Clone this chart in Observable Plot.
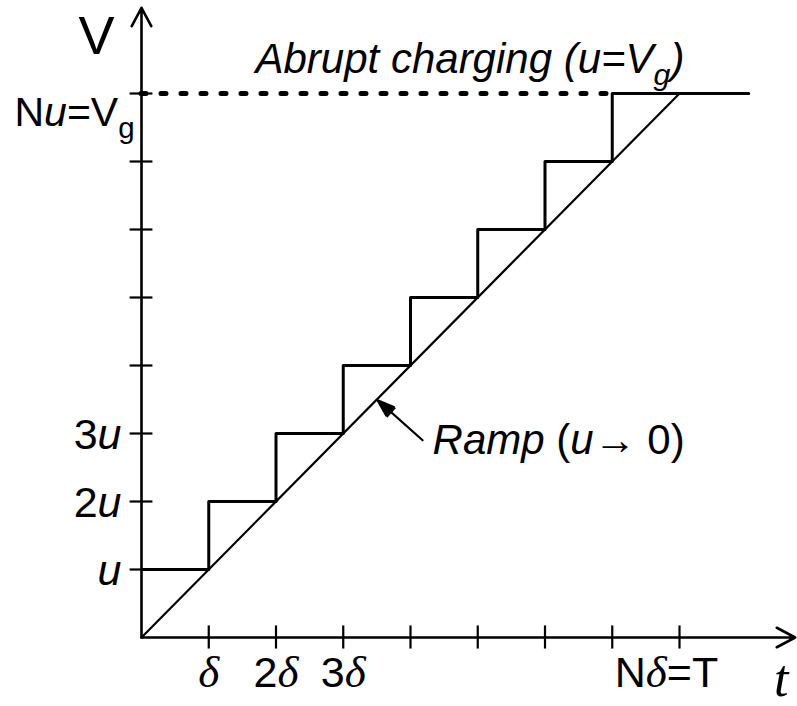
<!DOCTYPE html>
<html><head><meta charset="utf-8">
<script src="https://cdn.jsdelivr.net/npm/d3@7"></script>
<script src="https://cdn.jsdelivr.net/npm/@observablehq/plot@0.6"></script>
<style>html,body{margin:0;padding:0;background:#fff;overflow:hidden}</style>
</head><body><div id="chart"></div>
<script>
// Markup in labels: *...* italic, _..._ subscript, ^...^ serif italic (Greek)
const steps = [1, 2, 3, 4, 5, 6, 7, 8];
const xTickLabels = ["^δ^", "2^δ^", "3^δ^", "", "", "", "", ""];
const xLastLabel = "N^δ^=T";
const yTickLabels = ["*u*", "2*u*", "3*u*", "", "", "", "", ""];
const yTopLabel = "N*u*=V_g_";
const stairT = [0, 1, 2, 3, 4, 5, 6, 7, 9.03];
const stairV = [1, 2, 3, 4, 5, 6, 7, 8, 8];
const rampT = [0, 8];
const rampV = [0, 8];
const Vg = 8;
const dashedEnd = 7;
const axisMaxT = 9.72;
const axisMaxV = 9.26;
const pointerTail = [4.18, 2.90];
const pointerTip = [3.51, 3.49];
const abruptLabel = "*Abrupt charging (u=V_g_)*";
const rampLabel = "*Ramp* (*u*→ 0)";
const yName = "V";
const xName = "t";

const stairs = stairT.map((t, i) => ({t, v: stairV[i]}));
const ramp = rampT.map((t, i) => ({t, v: rampV[i]}));
const serif = "'Liberation Serif', 'Times New Roman', serif";

const pointerHead = {
  draw(ctx, size) {
    ctx.moveTo(0, 0);
    ctx.lineTo(6.5, 19);
    ctx.lineTo(-6.5, 19);
    ctx.closePath();
  }
};

const svg = Plot.plot({
  width: 797, height: 706,
  marginLeft: 141, marginRight: 118, marginTop: 93, marginBottom: 69,
  x: {domain: [0, 8], axis: null},
  y: {domain: [0, 8], axis: null},
  style: {fontFamily: "'Liberation Sans', Arial, sans-serif", background: "white", color: "black"},
  marks: [
    Plot.ruleY([Vg], {x1: 0, x2: dashedEnd, strokeWidth: 5, strokeDasharray: "5,15", strokeLinecap: "round"}),
    Plot.line(stairs, {x: "t", y: "v", curve: "step-after", strokeWidth: 3}),
    Plot.line(ramp, {x: "t", y: "v", strokeWidth: 2.2}),
    Plot.arrow([{x1: 0, y1: 0, x2: axisMaxT, y2: 0}, {x1: 0, y1: 0, x2: 0, y2: axisMaxV}],
      {x1: "x1", y1: "y1", x2: "x2", y2: "y2", strokeWidth: 2.6, headLength: 12, headAngle: 56}),
    Plot.ruleX(steps, {x: d => d, y1: -0.17, y2: 0.17, strokeWidth: 2.2}),
    Plot.ruleY(steps, {y: d => d, x1: -0.17, x2: 0.17, strokeWidth: 2.2}),
    Plot.arrow([0], {x1: pointerTail[0], y1: pointerTail[1], x2: pointerTip[0], y2: pointerTip[1], strokeWidth: 2.2, headLength: 12, headAngle: 38}),
    Plot.dot([0], {x: pointerTip[0], y: pointerTip[1], r: 10, symbol: pointerHead, rotate: -48, fill: "black", stroke: "none"}),
    Plot.text(steps, {x: d => d, y: 0, text: (d, i) => xTickLabels[i], dy: 49, lineAnchor: "bottom", fontSize: 43}),
    Plot.text([xLastLabel], {x: 8, y: 0, text: d => d, dx: -13, dy: 49, lineAnchor: "bottom", fontSize: 43}),
    Plot.text(steps, {x: 0, y: d => d, text: (d, i) => yTickLabels[i], textAnchor: "end", dx: -20, dy: 15, lineAnchor: "bottom", fontSize: 43}),
    Plot.text([yTopLabel], {x: 0, y: Vg, text: d => d, textAnchor: "start", dx: -127, dy: 32, lineAnchor: "bottom", fontSize: 41}),
    Plot.text([yName], {x: 0, y: axisMaxV, text: d => d, dx: -45, dy: 46, lineAnchor: "bottom", fontSize: 54}),
    Plot.text([xName], {x: axisMaxT, y: 0, text: d => d, dx: -14, dy: 58, lineAnchor: "bottom", fontSize: 52, fontFamily: serif, fontStyle: "italic"}),
    Plot.text([abruptLabel], {x: 0, y: Vg, text: d => d, textAnchor: "start", dx: 114, dy: -21, lineAnchor: "bottom", fontSize: 42}),
    Plot.text([rampLabel], {x: pointerTail[0], y: pointerTail[1], text: d => d, textAnchor: "start", dx: 10, dy: 14, lineAnchor: "bottom", fontSize: 42})
  ]
});
document.getElementById("chart").appendChild(svg);

const NS = "http://www.w3.org/2000/svg";
function rich(el) {
  const s = el.textContent;
  if (!/[*_^]/.test(s)) return;
  const fs = parseFloat(getComputedStyle(el).fontSize) || 40;
  el.textContent = "";
  let it = false, sub = false, ser = false, shifted = false, buf = "";
  const flush = () => {
    if (!buf) return;
    const t = document.createElementNS(NS, "tspan");
    t.textContent = buf;
    if (it) t.setAttribute("font-style", "italic");
    if (ser) { t.setAttribute("font-family", serif); t.setAttribute("font-style", "italic"); t.setAttribute("font-size", fs * 1.05); }
    if (sub) {
      t.setAttribute("font-size", fs * 0.72);
      if (!shifted) { t.setAttribute("dy", 0.3 * fs); shifted = true; }
    } else if (shifted) { t.setAttribute("dy", -0.3 * fs); shifted = false; }
    el.appendChild(t);
    buf = "";
  };
  for (const c of s) {
    if (c === "*") { flush(); it = !it; }
    else if (c === "_") { flush(); sub = !sub; }
    else if (c === "^") { flush(); ser = !ser; }
    else buf += c;
  }
  flush();
}
svg.querySelectorAll("text").forEach(rich);
</script>
</body></html>
